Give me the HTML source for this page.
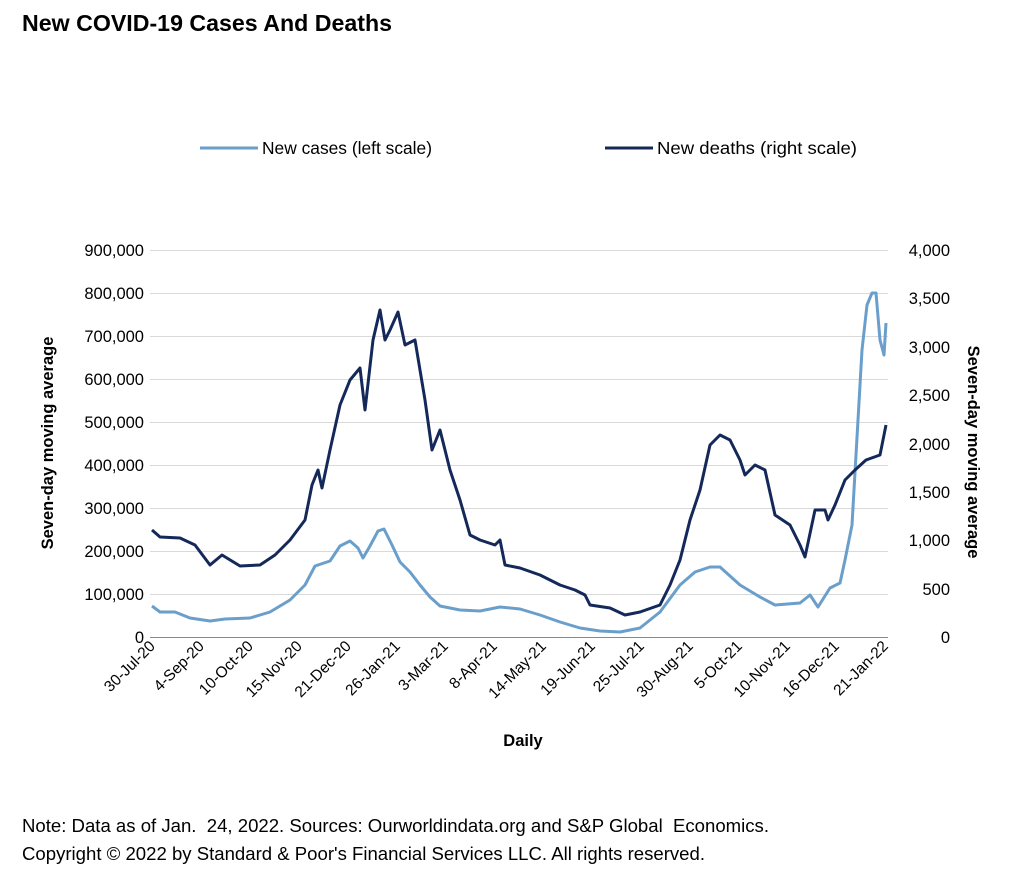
<!DOCTYPE html>
<html><head><style>
body{margin:0;background:#fff;font-family:"Liberation Sans",Arial,sans-serif;}
</style></head><body>
<svg width="1016" height="888" xmlns="http://www.w3.org/2000/svg" font-family="Liberation Sans, Arial, sans-serif">
<text x="22" y="31" font-size="23" font-weight="bold" textLength="370" lengthAdjust="spacingAndGlyphs">New COVID-19 Cases And Deaths</text>
<line x1="200" y1="148" x2="258" y2="148" stroke="#6a9fcb" stroke-width="3"/>
<text x="262" y="154" font-size="17.5" textLength="170" lengthAdjust="spacingAndGlyphs">New cases (left scale)</text>
<line x1="605" y1="148" x2="653" y2="148" stroke="#14295a" stroke-width="3"/>
<text x="657" y="154" font-size="17.5" textLength="200" lengthAdjust="spacingAndGlyphs">New deaths (right scale)</text>
<g stroke="#d9d9d9" stroke-width="1">
<line x1="150" y1="250.5" x2="888" y2="250.5"/><line x1="150" y1="293.5" x2="888" y2="293.5"/>
<line x1="150" y1="336.5" x2="888" y2="336.5"/><line x1="150" y1="379.5" x2="888" y2="379.5"/>
<line x1="150" y1="422.5" x2="888" y2="422.5"/><line x1="150" y1="465.5" x2="888" y2="465.5"/>
<line x1="150" y1="508.5" x2="888" y2="508.5"/><line x1="150" y1="551.5" x2="888" y2="551.5"/>
<line x1="150" y1="594.5" x2="888" y2="594.5"/>
</g>
<line x1="150" y1="637.5" x2="888" y2="637.5" stroke="#888"/>
<g font-size="16.5" text-anchor="end">
<text x="144" y="256">900,000</text><text x="144" y="299">800,000</text><text x="144" y="342">700,000</text>
<text x="144" y="385">600,000</text><text x="144" y="428">500,000</text><text x="144" y="471">400,000</text>
<text x="144" y="514">300,000</text><text x="144" y="557">200,000</text><text x="144" y="600">100,000</text>
<text x="144" y="643">0</text>
</g>
<g font-size="16.5" text-anchor="end">
<text x="950" y="256">4,000</text><text x="950" y="304">3,500</text><text x="950" y="353">3,000</text>
<text x="950" y="401">2,500</text><text x="950" y="450">2,000</text><text x="950" y="498">1,500</text>
<text x="950" y="546">1,000</text><text x="950" y="595">500</text><text x="950" y="643">0</text>
</g>
<text transform="translate(53,443) rotate(-90)" font-size="16.5" font-weight="bold" text-anchor="middle">Seven-day moving average</text>
<text transform="translate(968,452) rotate(90)" font-size="16.5" font-weight="bold" text-anchor="middle">Seven-day moving average</text>
<g font-size="15.5" text-anchor="end">
<text transform="translate(156,647) rotate(-45)">30-Jul-20</text>
<text transform="translate(205,647) rotate(-45)">4-Sep-20</text>
<text transform="translate(254,647) rotate(-45)">10-Oct-20</text>
<text transform="translate(303,647) rotate(-45)">15-Nov-20</text>
<text transform="translate(352,647) rotate(-45)">21-Dec-20</text>
<text transform="translate(401,647) rotate(-45)">26-Jan-21</text>
<text transform="translate(449,647) rotate(-45)">3-Mar-21</text>
<text transform="translate(498,647) rotate(-45)">8-Apr-21</text>
<text transform="translate(547,647) rotate(-45)">14-May-21</text>
<text transform="translate(596,647) rotate(-45)">19-Jun-21</text>
<text transform="translate(645,647) rotate(-45)">25-Jul-21</text>
<text transform="translate(694,647) rotate(-45)">30-Aug-21</text>
<text transform="translate(743,647) rotate(-45)">5-Oct-21</text>
<text transform="translate(791,647) rotate(-45)">10-Nov-21</text>
<text transform="translate(840,647) rotate(-45)">16-Dec-21</text>
<text transform="translate(889,647) rotate(-45)">21-Jan-22</text>
</g>
<text x="523" y="746" font-size="16.5" font-weight="bold" text-anchor="middle">Daily</text>
<polyline fill="none" stroke="#6a9fcb" stroke-width="3" stroke-linejoin="round" points="152,606 160,612 175,612 190,618 210,621 225,619 250,618 270,612 290,600 305,585 315,566 330,561 340,546 350,541 358,548 363,558 370,546 378,531 384,529 392,545 400,562 410,572 420,585 430,597 440,606 460,610 480,611 500,607 520,609 540,615 560,622 580,628 600,631 620,632 640,628 660,612 680,585 695,572 710,567 720,567 740,585 760,597 775,605 800,603 810,595 818,607 830,588 840,583 845,560 852,525 858,420 862,350 867,305 872,293 876,293 880,340 884,355 886,323"/>
<polyline fill="none" stroke="#14295a" stroke-width="3" stroke-linejoin="round" points="152,530 160,537 180,538 195,545 210,565 222,555 240,566 260,565 275,555 290,540 305,520 312,485 318,470 322,488 330,450 340,405 350,380 360,368 365,410 373,340 380,310 385,340 390,330 398,312 405,345 415,340 425,400 432,450 440,430 450,470 460,500 470,535 480,540 495,545 500,540 505,565 520,568 540,575 560,585 575,590 585,595 590,605 610,608 625,615 640,612 660,605 670,585 680,560 690,520 700,490 710,445 720,435 730,440 740,460 745,475 755,465 765,470 775,515 790,525 800,545 805,557 815,510 825,510 828,520 835,505 845,480 855,470 866,460 880,455 886,425"/>
<text x="22" y="832" font-size="18" xml:space="preserve" textLength="747" lengthAdjust="spacingAndGlyphs">Note: Data as of Jan.  24, 2022. Sources: Ourworldindata.org and S&amp;P Global  Economics.</text>
<text x="22" y="860" font-size="18" textLength="683" lengthAdjust="spacingAndGlyphs">Copyright © 2022 by Standard &amp; Poor's Financial Services LLC. All rights reserved.</text>
</svg>
</body></html>
